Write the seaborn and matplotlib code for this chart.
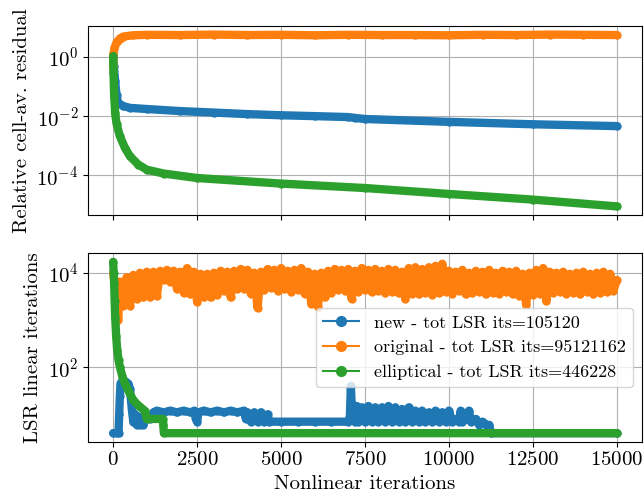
import numpy as np
import pandas as pd
import matplotlib
matplotlib.use("Agg")
import matplotlib.pyplot as plt
from matplotlib.lines import Line2D
from matplotlib.ticker import NullLocator
import seaborn as sns

# ---------------- data ----------------
# top panel: relative cell-averaged residual
new_res_it = [0, 20, 60, 100, 150, 300, 500, 1000, 2000, 3000, 4000, 5000,
              6000, 7000, 7200, 7500, 10000, 12500, 15000]
new_res = [0.9, 0.5, 0.15, 0.05, 0.028, 0.022, 0.019, 0.0174, 0.0148, 0.0132,
           0.0117, 0.0107, 0.0100, 0.0093, 0.0087, 0.0080, 0.0064, 0.0053, 0.0046]

orig_res_it = [0, 10, 40, 100, 200, 300, 600, 1000, 2000, 3000, 4000, 5000,
               6000, 7000, 8000, 9000, 10000, 11000, 12000, 13000, 14000, 15000]
orig_res = [0.5, 1.3, 2.0, 3.1, 4.2, 4.9, 5.4, 5.6, 5.5, 5.7, 5.5, 5.6,
            5.4, 5.6, 5.5, 5.5, 5.4, 5.6, 5.5, 5.7, 5.6, 5.5]

ell_res_it = [0, 10, 30, 60, 100, 200, 350, 500, 750, 1000, 1500, 2500,
              5000, 7500, 10000, 12500, 15000]
ell_res = [1.07, 0.3, 0.05, 0.0126, 0.0056, 0.0021, 0.00085, 0.00044, 0.00023,
           0.000155, 0.000115, 0.000081, 0.0000525, 0.0000372, 0.0000234,
           0.0000151, 0.0000089]

# bottom panel: LSR linear iterations
new_lsr_it = [0, 100, 160, 180, 200, 220, 260, 350, 450, 500, 530, 560, 600,
              650, 700, 750, 800, 850, 900, 950, 1000, 1100, 1200, 1300, 1500,
              1700, 1900, 2100, 2300, 2420, 2460, 2500, 2540, 2700, 2900, 3100,
              3300, 3500, 3700, 3900, 3950, 4000, 4100, 4200, 4300, 4400, 4500,
              4600, 4650, 5000, 5500, 6000, 6500, 7000, 7050, 7080, 7110, 7150,
              7200, 7250, 7300, 7400, 7500, 7600, 7700, 7800, 7900, 8000, 8100,
              8200, 8300, 8400, 8500, 8600, 8700, 8800, 8900, 9000, 9100, 9200,
              9300, 9400, 9500, 9600, 9700, 9800, 9900, 10000, 10100, 10200,
              10300, 10350, 10400, 10500, 10600, 10650, 10800, 10900, 11000,
              11100, 11200, 11250, 15000]
new_lsr = [4, 4, 4, 10, 25, 45, 50, 50, 45, 35, 20, 12, 7,
           10, 6, 9, 6, 9, 6, 8, 10, 8, 11, 12, 11,
           12, 11, 12, 11, 12, 8, 7, 11, 12, 11, 12,
           11, 12, 11, 12, 8, 11, 7, 11, 7, 11, 7,
           10, 7, 7, 7, 7, 7, 7, 9, 40, 12, 16,
           7, 15, 7, 14, 7, 15, 7, 14, 7, 14, 7,
           15, 7, 14, 7, 13, 7, 14, 7, 12, 7, 12,
           7, 11, 7, 12, 7, 11, 7, 12, 7, 8,
           7, 12, 7, 8, 12, 7, 8, 6, 7,
           6, 6, 4, 4]

orig_lsr_it = [0, 50, 100, 150] + list(range(200, 15001, 100))
orig_lsr = [10000, 5500, 3000, 1000,
            6500, 2000, 8000, 2000, 9000, 2800, 10000, 3000, 10500,
            3000, 10500, 3200, 11000, 7000, 11500, 6500, 11000, 4500, 10500,
            3800, 12500, 3500, 10500, 2400, 9500, 3000, 9500, 3000, 10000,
            3400, 11000, 4200, 10500, 3000, 11000, 4500, 12000, 4600, 11500,
            3600, 10000, 1800, 10500, 4400, 12000, 4800, 11500, 4200, 12500,
            4600, 11000, 4000, 11500, 4400, 12500, 3600, 10500, 2200, 9500,
            1900, 10000, 3000, 11000, 3800, 12000, 4400, 11500, 4200, 12000,
            2800, 11000, 4000, 12500, 4400, 11500, 3900, 12000, 4200, 11000,
            3700, 12000, 4000, 11500, 3700, 10500, 2800, 12500, 3600, 13000,
            3500, 12000, 3800, 13000, 3400, 14000, 3700, 15500, 4000, 11000,
            3600, 10500, 4200, 11500, 3500, 10000, 3800, 11000, 4000, 10500,
            3500, 11500, 3800, 10000, 3600, 11000, 3900, 10500, 3500, 11000,
            3200, 9500, 2100, 10000, 3400, 11500, 3600, 12500, 2500, 10500,
            3800, 10000, 4000, 10500, 3600, 9500, 3800, 10000, 3500, 10500,
            4000, 9500, 3500, 10000, 3800, 10500, 3900, 9500, 4200, 7000]

ell_lsr_it = [0, 15, 30, 45, 60, 90, 120, 160, 200, 270, 350, 470, 600, 770,
              940, 1000, 1480, 1495, 1510, 15000]
ell_lsr = [17000, 10000, 6000, 2500, 1170, 450, 235, 140, 102, 65, 45, 30, 20,
           15, 12, 8, 8, 6, 4, 4]

labels = ["new - tot LSR its=105120",
          "original - tot LSR its=95121162",
          "elliptical - tot LSR its=446228"]
colors = ["#1f77b4", "#ff7f0e", "#2ca02c"]

# ---------------- style ----------------
plt.rcParams["font.family"] = "serif"
plt.rcParams["font.serif"] = ["cmr10", "DejaVu Serif"]
plt.rcParams["mathtext.fontset"] = "cm"
plt.rcParams["axes.formatter.use_mathtext"] = True
plt.rcParams["axes.unicode_minus"] = False
plt.rcParams["font.size"] = 15

fig = plt.figure(figsize=(6.44, 4.98), dpi=100)
ax1 = fig.add_axes([0.1366, 0.5683, 0.8603, 0.3795])
ax2 = fig.add_axes([0.1366, 0.1130, 0.8603, 0.3784], sharex=ax1)

line_kw = dict(lw=6, marker="o", ms=6, mew=0, estimator=None,
               solid_capstyle="round", solid_joinstyle="round")


def draw(ax, it, vals, color):
    df = pd.DataFrame({"it": it, "val": vals})
    sns.lineplot(data=df, x="it", y="val", ax=ax, color=color, sort=False,
                 **line_kw)


for ax, series in [
    (ax1, [(new_res_it, new_res), (orig_res_it, orig_res), (ell_res_it, ell_res)]),
    (ax2, [(new_lsr_it, new_lsr), (orig_lsr_it, orig_lsr), (ell_lsr_it, ell_lsr)]),
]:
    ax.set_yscale("log")
    for (it, vals), c in zip(series, colors):
        draw(ax, it, vals, c)
    ax.grid(True, color="#b0b0b0", lw=0.8)

ax1.set_yticks([1e-4, 1e-2, 1e0])
ax2.set_yticks([1e2, 1e4])
ax1.yaxis.set_minor_locator(NullLocator())
ax2.yaxis.set_minor_locator(NullLocator())
ax1.set_xticks([0, 2500, 5000, 7500, 10000, 12500, 15000])
ax1.tick_params(labelbottom=False)
ax1.set_xlabel("")
ax1.set_ylabel("Relative cell-av. residual")
ax2.set_ylabel("LSR linear iterations")
ax2.set_xlabel("Nonlinear iterations")

handles = [Line2D([], [], color=c, lw=1.5, marker="o", ms=7) for c in colors]
ax2.legend(handles, labels, loc="center right", fontsize=13)

fig.savefig("out.png", dpi=100)
